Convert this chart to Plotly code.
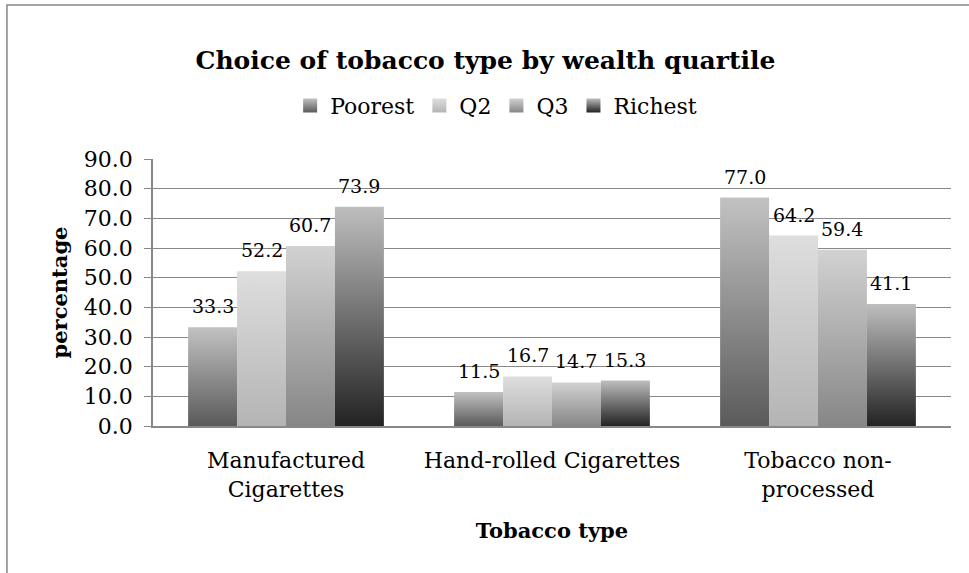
import plotly.graph_objects as go

# Survey shares (%) of tobacco type chosen, by wealth quartile
categories = ["Manufactured<br>Cigarettes", "Hand-rolled Cigarettes", "Tobacco non-<br>processed"]
series_names = ["Poorest", "Q2", "Q3", "Richest"]
poorest = [33.3, 11.5, 77.0]
q2 = [52.2, 16.7, 64.2]
q3 = [60.7, 14.7, 59.4]
richest = [73.9, 15.3, 41.1]
y_ticks = [0, 10, 20, 30, 40, 50, 60, 70, 80, 90]

series_values = [poorest, q2, q3, richest]
# (bottom colour, top colour) of each series' vertical gradient
gradients = [
    ("#5a5a5a", "#c2c2c2"),
    ("#b4b4b4", "#dedede"),
    ("#868686", "#d2d2d2"),
    ("#232323", "#bebebe"),
]

FONT = "DejaVu Serif"
GRID = "#888888"
bar_w = 0.184
n = len(series_names)

fig = go.Figure()

for j, (name, vals) in enumerate(zip(series_names, series_values)):
    bottom, top = gradients[j]
    for i, v in enumerate(vals):
        xc = i + (j - (n - 1) / 2) * bar_w
        x0, x1 = xc - bar_w / 2, xc + bar_w / 2
        fig.add_trace(go.Scatter(
            x=[x0, x0, x1, x1, x0], y=[0, v, v, 0, 0],
            mode="none", fill="toself",
            fillgradient=dict(type="vertical", colorscale=[[0, bottom], [1, top]]),
            name=name, legendgroup=name, showlegend=False,
            hoveron="fills", hoverinfo="name",
        ))
        fig.add_annotation(
            x=xc, y=v, text=f"{v:.1f}", showarrow=False,
            yanchor="bottom", yshift=8,
            font=dict(family=FONT, size=19, color="#000000"),
        )
    # legend swatch for the series
    fig.add_trace(go.Scatter(
        x=[None], y=[None], mode="markers", name=name, legendgroup=name,
        marker=dict(symbol="square", size=14, color=top,
                    gradient=dict(type="vertical", color=bottom), line=dict(width=0)),
    ))

# outer chart frame
fig.add_shape(type="rect", xref="paper", yref="paper",
              x0=-0.183, x1=2, y0=-2, y1=1.577,
              line=dict(color="#878787", width=1.5), fillcolor="rgba(0,0,0,0)")

fig.update_layout(
    width=969, height=573,
    margin=dict(l=153, r=18, t=159, b=147),
    paper_bgcolor="white", plot_bgcolor="white",
    font=dict(family=FONT, size=22, color="#000000"),
    title=dict(text="<b>Choice of tobacco type by wealth quartile</b>",
               x=0.501, xanchor="center", y=0.895, yanchor="middle",
               font=dict(family=FONT, size=25)),
    legend=dict(orientation="h", x=0.43, xanchor="center", y=1.2, yanchor="middle",
                font=dict(family=FONT, size=22), bgcolor="rgba(0,0,0,0)"),
    showlegend=True,
)

fig.update_xaxes(
    range=[-0.5, 2.5], tickvals=[0, 1, 2], ticktext=categories,
    showgrid=False, zeroline=False, showline=True, linecolor=GRID, linewidth=1.5,
    ticks="", ticklabelstandoff=14, tickfont=dict(family=FONT, size=22),
    title=dict(text="<b>Tobacco type</b>", font=dict(family=FONT, size=21), standoff=23),
)
fig.update_yaxes(
    range=[0, 90], tickvals=y_ticks, ticktext=[f"{t:.1f}" for t in y_ticks],
    showgrid=True, gridcolor=GRID, gridwidth=1.3, zeroline=False,
    showline=True, linecolor=GRID, linewidth=1.5,
    ticks="outside", ticklen=7, tickcolor=GRID, tickwidth=1.3,
    ticklabelstandoff=7, tickfont=dict(family=FONT, size=22),
    title=dict(text="<b>percentage</b>", font=dict(family=FONT, size=21), standoff=11),
)

fig.write_html("out.html")
